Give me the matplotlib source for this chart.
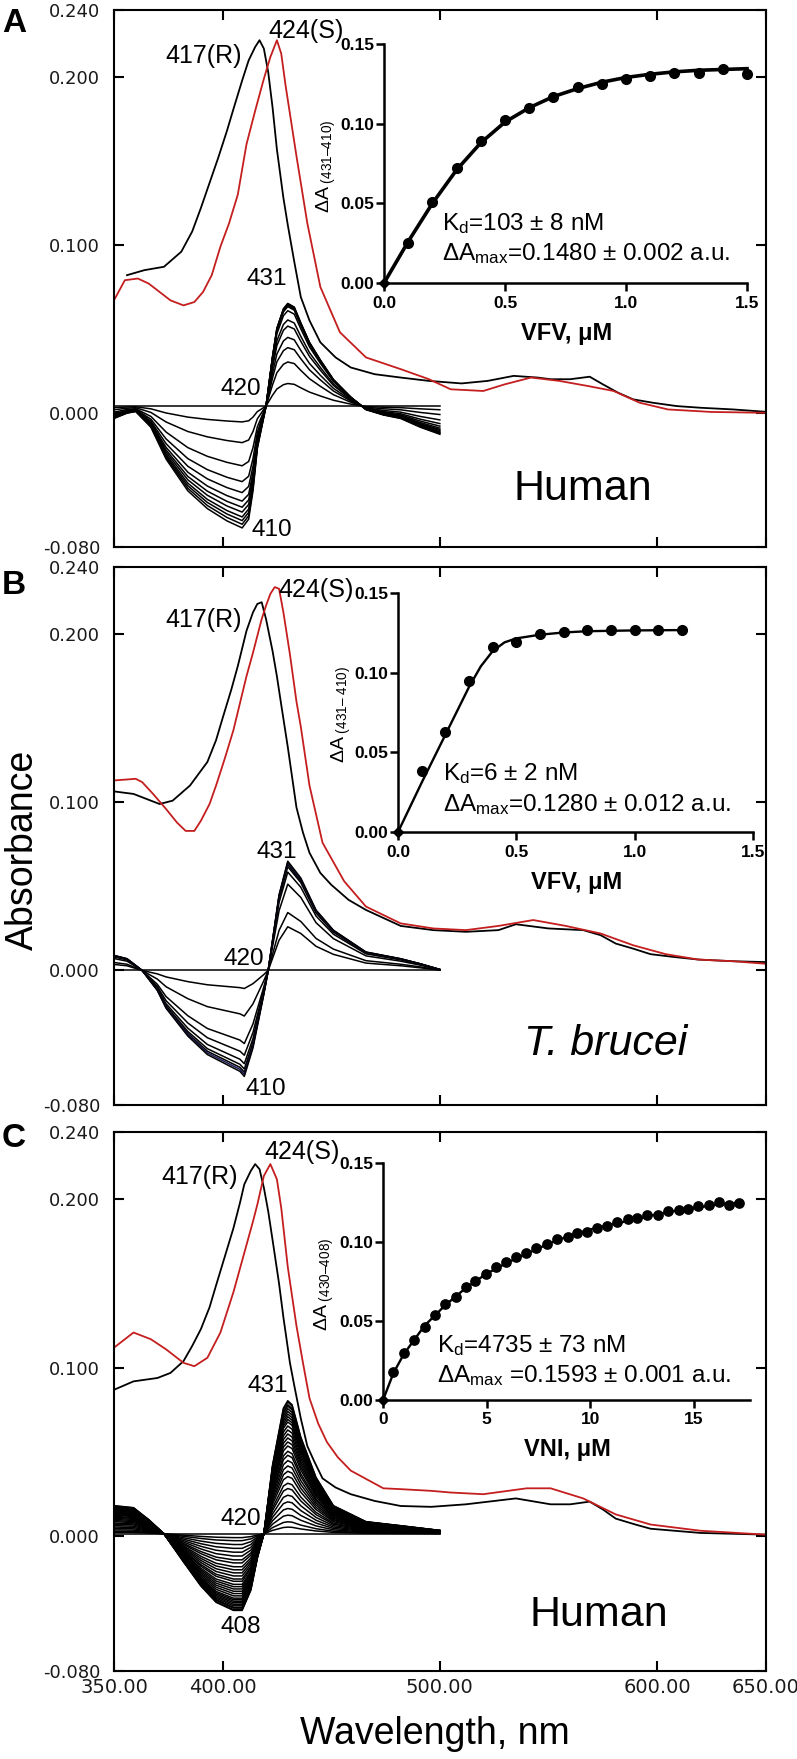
import numpy as np
import matplotlib
matplotlib.use('Agg')
import matplotlib.pyplot as plt

plt.rcParams['font.family'] = ['Liberation Sans', 'DejaVu Sans']
plt.rcParams['mathtext.fontset'] = 'custom'
plt.rcParams['mathtext.rm'] = 'Liberation Sans'
plt.rcParams['mathtext.it'] = 'Liberation Sans:italic'
plt.rcParams['mathtext.bf'] = 'Liberation Sans:bold'
plt.rcParams['mathtext.default'] = 'regular'

# ---------------- panel A (human, VFV) ----------------
wl_red_A = [350, 355, 361, 366, 371, 376, 382, 387, 391, 395, 399, 403, 407, 411, 415, 419, 422, 425, 427, 429,
            434, 439, 445, 454, 466, 482, 495, 505, 520, 530, 542, 555, 568, 580, 592, 605, 625, 650]
red_A = [0.067, 0.079, 0.080, 0.077, 0.072, 0.067, 0.064, 0.066, 0.072, 0.082, 0.099, 0.113, 0.130, 0.160, 0.180,
         0.199, 0.212, 0.222, 0.214, 0.195, 0.153, 0.113, 0.075, 0.048, 0.033, 0.026, 0.020, 0.014, 0.013, 0.017,
         0.021, 0.019, 0.016, 0.013, 0.006, 0.002, 0.0005, 0.0]
wl_black_A = [356, 364, 373, 381, 386, 390, 394, 398, 402, 405, 409, 412, 415, 417, 419, 421, 423, 425, 428, 430,
              433, 436, 440, 445, 452, 459, 470, 482, 495, 510, 522, 534, 545, 551, 560, 569, 575, 582, 589, 598,
              609, 620, 635, 650]
black_A = [0.082, 0.085, 0.087, 0.096, 0.108, 0.122, 0.137, 0.152, 0.168, 0.181, 0.198, 0.210, 0.218, 0.222, 0.217,
           0.203, 0.182, 0.157, 0.128, 0.112, 0.090, 0.069, 0.055, 0.042, 0.033, 0.027, 0.023, 0.021, 0.019, 0.0175,
           0.019, 0.022, 0.021, 0.020, 0.020, 0.0215, 0.017, 0.012, 0.008, 0.006, 0.004, 0.003, 0.002, 0.0006]
diff_wl_A = [350, 356, 360, 367, 374, 384, 393, 402, 409, 412, 414, 416, 419, 420, 423, 425, 428, 430, 433, 436,
             440, 445, 451, 459, 466, 474, 482, 491, 500]
diff_max_A = [-0.0074, -0.0042, -0.0032, -0.0126, -0.0316, -0.0505, -0.0611, -0.0684, -0.0726, -0.0674,
              -0.0505, -0.0253, -0.0063, 0.0, 0.0295, 0.0463, 0.0579, 0.0611, 0.0589, 0.0495,
              0.0379, 0.0274, 0.0158, 0.0053, -0.0021, -0.0053, -0.0074, -0.0126, -0.0168]
diff_pos_A = [0.22, 0.43, 0.57, 0.67, 0.78, 0.84, 0.93, 0.97, 0.98, 0.99, 1.0, 1.0]
diff_neg_A = [0.13, 0.30, 0.49, 0.62, 0.71, 0.78, 0.83, 0.87, 0.91, 0.94, 0.97, 1.0]
diff_base_A = 0.004

conc_A = [0, 0.1, 0.2, 0.3, 0.4, 0.5, 0.6, 0.7, 0.8, 0.9, 1.0, 1.1, 1.2, 1.3, 1.4, 1.5]
dA_A = [0, 0.025, 0.051, 0.072, 0.089, 0.102, 0.110, 0.117, 0.123, 0.125, 0.128, 0.130, 0.132, 0.132, 0.134, 0.131]
fit_x_A = [0, 0.1, 0.2, 0.3, 0.4, 0.5, 0.6, 0.7, 0.8, 0.9, 1.0, 1.1, 1.2, 1.3, 1.4, 1.5]
fit_y_A = [0, 0.026, 0.050, 0.071, 0.088, 0.101, 0.110, 0.117, 0.122, 0.126, 0.129, 0.131, 0.1325, 0.1335, 0.134, 0.1345]

# ---------------- panel B (T. brucei, VFV) ----------------
wl_red_B = [350, 360, 363, 368, 374, 379, 383, 387, 390, 394, 397, 401, 405, 408, 411, 414, 416, 418, 420, 422,
            424, 426, 428, 431, 434, 436, 440, 446, 456, 466, 482, 497, 512, 527, 543, 558, 574, 589, 604, 619,
            635, 650]
red_B = [0.113, 0.114, 0.112, 0.105, 0.096, 0.088, 0.083, 0.083, 0.089, 0.099, 0.110, 0.126, 0.143, 0.159, 0.175,
         0.189, 0.199, 0.209, 0.217, 0.224, 0.228, 0.227, 0.213, 0.188, 0.160, 0.145, 0.110, 0.076, 0.053, 0.038,
         0.028, 0.025, 0.024, 0.0265, 0.030, 0.0265, 0.022, 0.015, 0.0097, 0.0065, 0.0055, 0.004]
wl_black_B = [350, 359, 367, 371, 377, 385, 389, 393, 397, 400, 404, 407, 411, 414, 416, 418, 420, 423, 425, 427,
              430, 434, 437, 440, 445, 450, 458, 466, 482, 497, 512, 527, 535, 550, 566, 574, 581, 589, 597, 608,
              619, 635, 650]
black_B = [0.1065, 0.105, 0.101, 0.099, 0.101, 0.110, 0.117, 0.124, 0.137, 0.150, 0.167, 0.181, 0.202, 0.213,
           0.218, 0.219, 0.209, 0.190, 0.175, 0.158, 0.133, 0.097, 0.082, 0.070, 0.058, 0.051, 0.042, 0.036,
           0.0265, 0.024, 0.023, 0.024, 0.0275, 0.025, 0.024, 0.021, 0.016, 0.013, 0.0097, 0.008, 0.0065,
           0.0055, 0.005]
diff_wl_B = [350, 356, 363, 370, 374, 384, 393, 402, 408, 410, 414, 419, 421, 426, 430, 436, 443, 451, 466, 482,
             491, 500]
diff_max_B = [0.009, 0.007, 0.0, -0.012, -0.0225, -0.039, -0.050, -0.056, -0.060, -0.063, -0.046, -0.014, 0.0,
              0.045, 0.065, 0.055, 0.036, 0.024, 0.011, 0.007, 0.004, 0.0006]
diff_pos_B = [0.40, 0.53, 0.79, 0.90, 0.95, 0.97, 0.98, 0.99, 1.0]
diff_neg_B = [0.17, 0.43, 0.69, 0.80, 0.88, 0.93, 0.96, 0.98, 1.0]
diff_base_B = 0.0

conc_B = [0, 0.1, 0.2, 0.3, 0.4, 0.5, 0.6, 0.7, 0.8, 0.9, 1.0, 1.1, 1.2]
dA_B = [0, 0.0385, 0.063, 0.095, 0.116, 0.119, 0.124, 0.1255, 0.1265, 0.1267, 0.1267, 0.1267, 0.1267]
fit_x_B = [0, 0.1, 0.2, 0.3, 0.35, 0.4, 0.45, 0.5, 0.6, 0.7, 0.8, 1.0, 1.2]
fit_y_B = [0, 0.031, 0.061, 0.091, 0.104, 0.1135, 0.119, 0.1215, 0.1238, 0.1252, 0.126, 0.1265, 0.1267]

# ---------------- panel C (human, VNI) ----------------
wl_red_C = [350, 359, 367, 374, 382, 387, 393, 399, 405, 408, 411, 414, 416, 419, 422, 425, 427, 430, 434, 437,
            440, 444, 448, 453, 459, 474, 482, 496, 505, 520, 540, 551, 566, 581, 597, 620, 650]
red_C = [0.112, 0.121, 0.117, 0.111, 0.103, 0.101, 0.106, 0.121, 0.145, 0.159, 0.173, 0.187, 0.197, 0.214, 0.221,
         0.212, 0.195, 0.160, 0.125, 0.103, 0.082, 0.067, 0.056, 0.047, 0.039, 0.0285, 0.028, 0.027, 0.026, 0.025,
         0.0285, 0.0285, 0.0225, 0.013, 0.007, 0.0033, 0.001]
wl_black_C = [350, 359, 370, 376, 382, 386, 390, 394, 397, 401, 405, 408, 410, 413, 415, 417, 419, 421, 423, 426,
              428, 431, 433, 436, 439, 442, 446, 452, 459, 470, 482, 496, 512, 535, 551, 560, 569, 575, 581, 590,
              597, 620, 650]
black_C = [0.087, 0.092, 0.094, 0.097, 0.104, 0.113, 0.123, 0.136, 0.149, 0.166, 0.183, 0.198, 0.209, 0.217,
           0.221, 0.218, 0.207, 0.193, 0.176, 0.150, 0.130, 0.103, 0.0895, 0.070, 0.0536, 0.045, 0.0344, 0.029,
           0.025, 0.021, 0.018, 0.0175, 0.019, 0.0225, 0.019, 0.019, 0.0206, 0.016, 0.0105, 0.007, 0.0045, 0.002,
           0.001]
diff_wl_C = [350, 359, 366, 373, 382, 390, 397, 405, 409, 413, 416, 419, 423, 428, 430, 432, 436, 443, 451, 466,
             482, 500]
diff_max_C = [0.0167, 0.0155, 0.0084, 0.0, -0.0167, -0.031, -0.0407, -0.0455, -0.0455, -0.0335, -0.0144, 0.0,
              0.0407, 0.0746, 0.079, 0.0766, 0.0574, 0.0335, 0.0167, 0.0072, 0.0048, 0.002]
diff_frac_C = [0.05, 0.09, 0.14, 0.19, 0.24, 0.29, 0.34, 0.38, 0.43, 0.47, 0.51, 0.55, 0.59, 0.62, 0.66,
               0.69, 0.72, 0.75, 0.78, 0.81, 0.84, 0.86, 0.88, 0.90, 0.92, 0.94, 0.96, 0.97, 0.99, 1.0]
diff_base_C = 0.0015

conc_C = [0, 0.5, 1.0, 1.5, 2.0, 2.5, 3.0, 3.5, 4.0, 4.45, 4.95, 5.45, 5.95, 6.4, 6.9, 7.4, 7.9, 8.4, 8.9,
          9.35, 9.85, 10.3, 10.8, 11.3, 11.8, 12.25, 12.75, 13.25, 13.75, 14.25, 14.7, 15.2, 15.7, 16.2, 16.7, 17.15]
dA_C = [0, 0.018, 0.0295, 0.038, 0.046, 0.054, 0.061, 0.0655, 0.0715, 0.0755, 0.0795, 0.084, 0.0875, 0.0905,
        0.093, 0.0965, 0.0985, 0.102, 0.1035, 0.1055, 0.1065, 0.109, 0.110, 0.1125, 0.1145, 0.1155, 0.117, 0.117,
        0.1195, 0.120, 0.121, 0.1225, 0.1235, 0.1255, 0.1235, 0.1245]
fit_x_C = [0, 0.5, 1, 2, 3, 4, 5, 6, 7, 8, 9, 10, 11, 12, 13, 14, 15, 16, 17.2]
fit_y_C = [0, 0.017, 0.029, 0.047, 0.060, 0.071, 0.080, 0.087, 0.093, 0.099, 0.104, 0.108, 0.111, 0.114, 0.117,
           0.1195, 0.1215, 0.1235, 0.125]

RED = '#c41e1e'
TICKCOL = '#1a1a1a'
TICKFONT = 'DejaVu Sans'


def diff_family(shape, pos, neg, base):
    shape = np.array(shape)
    curves = [np.full_like(shape, base)]
    for p, n in zip(pos, neg):
        curves.append(base + np.where(shape > 0, p * shape, n * shape))
    return curves


def spectra_panel(rect, show_x):
    ax = fig.add_axes(rect)
    ax.set_xlim(350, 650)
    ax.set_ylim(-0.080, 0.240)
    ax.set_xticks([350, 400, 500, 600, 650])
    ax.set_yticks([-0.080, 0.0, 0.1, 0.2, 0.24])
    ax.set_yticklabels(['-0.080', '0.000', '0.100', '0.200', '0.240'], family=TICKFONT)
    if show_x:
        ax.set_xticklabels(['350.00', '400.00', '500.00', '600.00', '650.00'], family=TICKFONT)
    else:
        ax.set_xticklabels([])
    ax.tick_params(direction='in', length=7, width=1.5, top=True, right=True, labelcolor=TICKCOL)
    ax.tick_params(axis='y', pad=10, labelsize=13)
    ax.tick_params(axis='x', pad=5, labelsize=14)
    for s in ax.spines.values():
        s.set_linewidth(1.5)
    return ax


def inset_panel(rect, xmax, xticks, xticklabels, xlabel, ylabel):
    ax = fig.add_axes(rect)
    ax.patch.set_alpha(0)
    ax.set_xlim(0, xmax)
    ax.set_ylim(0, 0.15)
    ax.spines['top'].set_visible(False)
    ax.spines['right'].set_visible(False)
    ax.spines['left'].set_linewidth(1.8)
    ax.spines['bottom'].set_linewidth(1.8)
    ax.set_xticks(xticks)
    ax.set_xticklabels(xticklabels, fontweight='bold')
    ax.set_yticks([0, 0.05, 0.10, 0.15])
    ax.set_yticklabels(['0.00', '0.05', '0.10', '0.15'], fontweight='bold')
    ax.tick_params(direction='out', length=6, width=1.8, labelsize=12.5)
    ax.tick_params(axis='y', pad=1)
    ax.tick_params(axis='x', pad=3)
    ax.text(0.503, -0.21, xlabel, transform=ax.transAxes, ha='center', va='center',
            fontsize=17, fontweight='bold')
    ax.text(-0.16, 0.49, ylabel, transform=ax.transAxes, ha='center', va='center',
            rotation=90, fontsize=14)
    return ax


fig = plt.figure(figsize=(7.97, 17.59), dpi=100)

# ---------- A ----------
ax = spectra_panel([0.1430, 0.6890, 0.8177, 0.3053], False)
for c in diff_family(diff_max_A, diff_pos_A, diff_neg_A, diff_base_A):
    ax.plot(diff_wl_A, c, color='black', lw=1.1)
ax.plot(wl_black_A, black_A, color='black', lw=1.3)
ax.plot(wl_red_A, red_A, color=RED, lw=1.3)
ax.text(391.4, 0.2125, '417(R)', fontsize=18, ha='center', va='center')
ax.text(438.6, 0.2277, '424(S)', fontsize=18, ha='center', va='center')
ax.text(420.4, 0.080, '431', fontsize=17.5, ha='center', va='center')
ax.text(408.5, 0.0141, '420', fontsize=17.5, ha='center', va='center')
ax.text(422.7, -0.070, '410', fontsize=17.5, ha='center', va='center')
ax.text(566, -0.0454, 'Human', fontsize=31, ha='center', va='center')

ins = inset_panel([0.4818, 0.8391, 0.4555, 0.1359], 1.5, [0, 0.5, 1.0, 1.5],
                  ['0.0', '0.5', '1.0', '1.5'], 'VFV, \u03bcM', '\u0394A$_{\\ (431\u2013410)}$')
ins.plot(fit_x_A, fit_y_A, color='black', lw=2.6, clip_on=False)
ins.plot(conc_A[1:], dA_A[1:], 'o', color='black', ms=7, clip_on=False)
ins.plot(conc_A[0], dA_A[0], 'D', color='black', ms=5, clip_on=False)
ins.text(0.238, 0.0334, 'K$_d$=103 \u00b1 8 nM', fontsize=17.5, va='baseline')
ins.text(0.238, 0.0145, '\u0394A$_{max}$=0.1480 \u00b1 0.002 a.u.', fontsize=17.5, va='baseline')

# ---------- B ----------
ax = spectra_panel([0.1430, 0.3718, 0.8177, 0.3059], False)
curves_B = diff_family(diff_max_B, diff_pos_B, diff_neg_B, diff_base_B)
for i, c in enumerate(curves_B):
    ax.plot(diff_wl_B, c, color='#1b1b55' if i == len(curves_B) - 2 else 'black', lw=1.1)
ax.plot(wl_black_B, black_B, color='black', lw=1.3)
ax.plot(wl_red_B, red_B, color=RED, lw=1.3)
ax.text(391.4, 0.2086, '417(R)', fontsize=18, ha='center', va='center')
ax.text(443, 0.226, '424(S)', fontsize=18, ha='center', va='center')
ax.text(425, 0.0705, '431', fontsize=17.5, ha='center', va='center')
ax.text(410, 0.007, '420', fontsize=17.5, ha='center', va='center')
ax.text(420, -0.0707, '410', fontsize=17.5, ha='center', va='center')
ax.text(576.5, -0.044, 'T. brucei', fontsize=31, style='italic', ha='center', va='center')

ins = inset_panel([0.4994, 0.5270, 0.4454, 0.1359], 1.5, [0, 0.5, 1.0, 1.5],
                  ['0.0', '0.5', '1.0', '1.5'], 'VFV, \u03bcM', '\u0394A$_{\\ (431\u2013\\ 410)}$')
ins.plot(fit_x_B, fit_y_B, color='black', lw=1.7, clip_on=False)
ins.plot(conc_B[1:], dA_B[1:], 'o', color='black', ms=7, clip_on=False)
ins.plot(conc_B[0], dA_B[0], 'D', color='black', ms=5, clip_on=False)
ins.text(0.191, 0.0323, 'K$_d$=6 \u00b1 2 nM', fontsize=17.5, va='baseline')
ins.text(0.191, 0.0132, '\u0394A$_{max}$=0.1280 \u00b1 0.012 a.u.', fontsize=17.5, va='baseline')

# ---------- C ----------
ax = spectra_panel([0.1430, 0.0500, 0.8177, 0.3064], True)
for c in diff_family(diff_max_C, diff_frac_C, diff_frac_C, diff_base_C):
    ax.plot(diff_wl_C, c, color='black', lw=1.1)
ax.plot(wl_black_C, black_C, color='black', lw=1.3)
ax.plot(wl_red_C, red_C, color=RED, lw=1.3)
ax.text(389.6, 0.2132, '417(R)', fontsize=18, ha='center', va='center')
ax.text(436.5, 0.2282, '424(S)', fontsize=18, ha='center', va='center')
ax.text(421, 0.0891, '431', fontsize=17.5, ha='center', va='center')
ax.text(408.5, 0.0101, '420', fontsize=17.5, ha='center', va='center')
ax.text(408.5, -0.0537, '408', fontsize=17.5, ha='center', va='center')
ax.text(573.3, -0.0465, 'Human', fontsize=31, ha='center', va='center')

ins = inset_panel([0.4806, 0.2041, 0.4605, 0.1347], 17.7, [0, 5, 10, 15],
                  ['0', '5', '10', '15'], 'VNI, \u03bcM', '\u0394A$_{\\ (430\u2013408)}$')
ins.plot(fit_x_C, fit_y_C, color='black', lw=1.7, clip_on=False)
ins.plot(conc_C[1:], dA_C[1:], 'o', color='black', ms=6.7, clip_on=False)
ins.plot(conc_C[0], dA_C[0], 'D', color='black', ms=5, clip_on=False)
ins.text(2.59, 0.0306, 'K$_d$=4735 \u00b1 73 nM', fontsize=17.5, va='baseline')
ins.text(2.59, 0.0114, '\u0394A$_{max}$ =0.1593 \u00b1 0.001 a.u.', fontsize=17.5, va='baseline')

# panel letters and shared labels
fig.text(0.0176, 0.9869, 'A', fontsize=24, fontweight='bold', ha='center', va='center')
fig.text(0.0176, 0.6674, 'B', fontsize=24, fontweight='bold', ha='center', va='center')
fig.text(0.0176, 0.3525, 'C', fontsize=24, fontweight='bold', ha='center', va='center')
fig.text(0.029, 0.517, 'Absorbance', fontsize=27, rotation=90, ha='center', va='center')
fig.text(0.546, 0.0140, 'Wavelength, nm', fontsize=27, ha='center', va='center')

fig.savefig('out.png', dpi=100)
